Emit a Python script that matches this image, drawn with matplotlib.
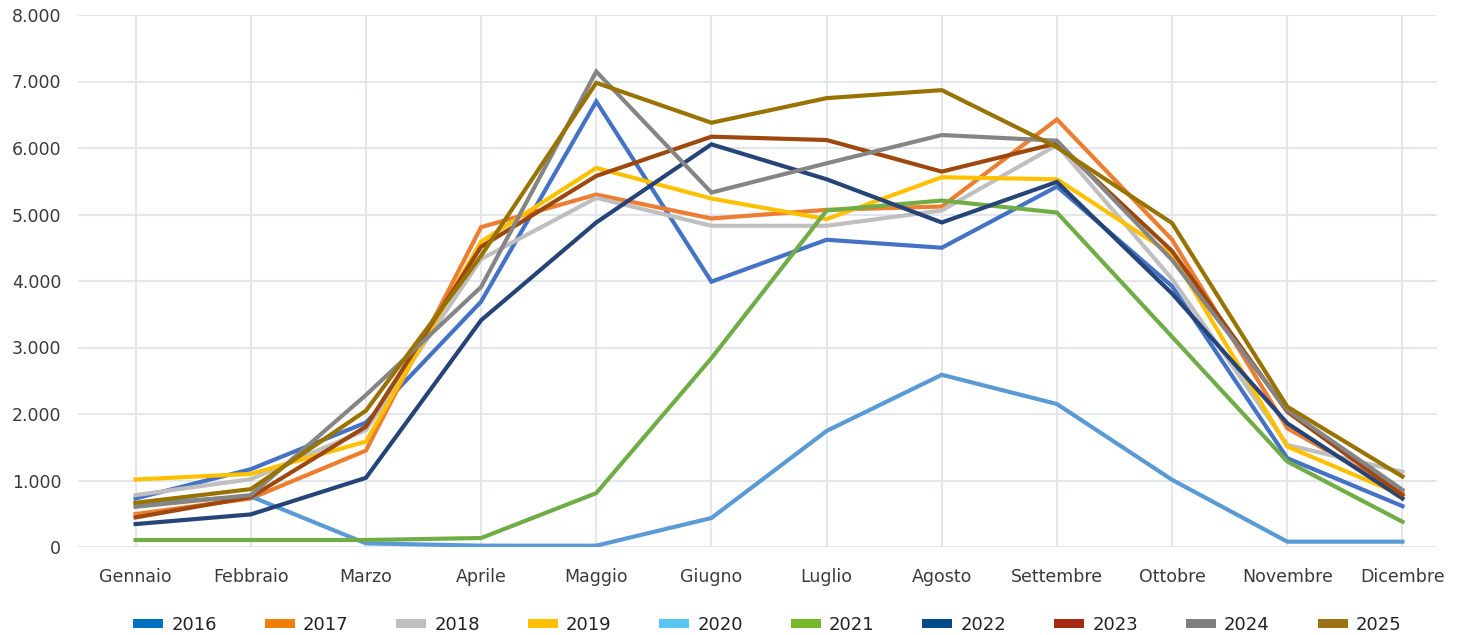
import matplotlib
matplotlib.use("Agg")
import matplotlib.pyplot as plt
from matplotlib.patches import Patch
from matplotlib.ticker import FuncFormatter, MultipleLocator

months = ["Gennaio", "Febbraio", "Marzo", "Aprile", "Maggio", "Giugno",
          "Luglio", "Agosto", "Settembre", "Ottobre", "Novembre", "Dicembre"]
years = ["2016", "2017", "2018", "2019", "2020", "2021", "2022", "2023", "2024", "2025"]

v2016 = [730, 1170, 1870, 3690, 6700, 3990, 4620, 4500, 5420, 3920, 1335, 615]
v2017 = [495, 730, 1450, 4810, 5300, 4940, 5070, 5120, 6430, 4620, 1785, 810]
v2018 = [780, 1020, 1760, 4330, 5250, 4830, 4830, 5060, 6045, 4030, 1535, 1130]
v2019 = [1015, 1100, 1585, 4590, 5700, 5240, 4930, 5560, 5530, 4400, 1510, 780]
v2020 = [650, 760, 55, 20, 20, 436, 1745, 2590, 2150, 1010, 80, 80]
v2021 = [105, 105, 105, 135, 810, 2840, 5060, 5210, 5030, 3160, 1285, 380]
v2022 = [345, 490, 1040, 3410, 4880, 6055, 5530, 4880, 5490, 3810, 1860, 730]
v2023 = [445, 750, 1810, 4515, 5580, 6170, 6120, 5645, 6070, 4450, 2035, 780]
v2024 = [605, 780, 2285, 3910, 7150, 5330, 5770, 6195, 6110, 4315, 2060, 860]
v2025 = [665, 870, 2050, 4380, 6980, 6380, 6750, 6870, 6010, 4870, 2110, 1060]

series = [v2016, v2017, v2018, v2019, v2020, v2021, v2022, v2023, v2024, v2025]
line_colors = ["#4472C4", "#ED7D31", "#BFBFBF", "#FFC000", "#5B9BD5",
               "#70AD47", "#264478", "#9E480E", "#858585", "#997300"]
legend_colors = ["#0070C0", "#F07F09", "#BFBFBF", "#FFC000", "#5BC5F2",
                 "#77B82A", "#004A87", "#A52A14", "#7F7F7F", "#9B7314"]

plt.rcParams['font.family'] = ['DejaVu Sans']

fig = plt.figure(figsize=(14.59, 6.35), dpi=100)
ax = fig.add_axes([78/1459, 1-547/635, (1437-78)/1459, (547-15)/635])

x = list(range(len(months)))
for vals, c in zip(series, line_colors):
    ax.plot(x, vals, color=c, lw=3.0, solid_joinstyle='miter', zorder=3)

ax.set_xlim(-0.5, 11.3)
ax.set_ylim(0, 8000)
ax.yaxis.set_major_locator(MultipleLocator(1000))
ax.yaxis.set_major_formatter(FuncFormatter(lambda v, p: f"{int(v):,}".replace(",", ".")))
ax.set_xticks(x)
ax.set_xticklabels(months)
ax.grid(True, color="#E1E4EA", lw=1.3, zorder=0)
for s in ax.spines.values():
    s.set_visible(False)
ax.tick_params(axis='both', length=0, labelsize=12.5, colors="#3A3A3A")
ax.tick_params(axis='x', pad=15)
ax.tick_params(axis='y', pad=12)

handles = [Patch(facecolor=c, edgecolor='none') for c in legend_colors]
fig.legend(handles, years, loc='center', bbox_to_anchor=(0.526, 0.016), ncol=10,
           frameon=False, fontsize=13, handlelength=1.66, handleheight=0.45,
           columnspacing=2.65, handletextpad=0.45, labelcolor="#222222",
           borderpad=0.2)

fig.savefig("out.png", dpi=100, facecolor="white")
